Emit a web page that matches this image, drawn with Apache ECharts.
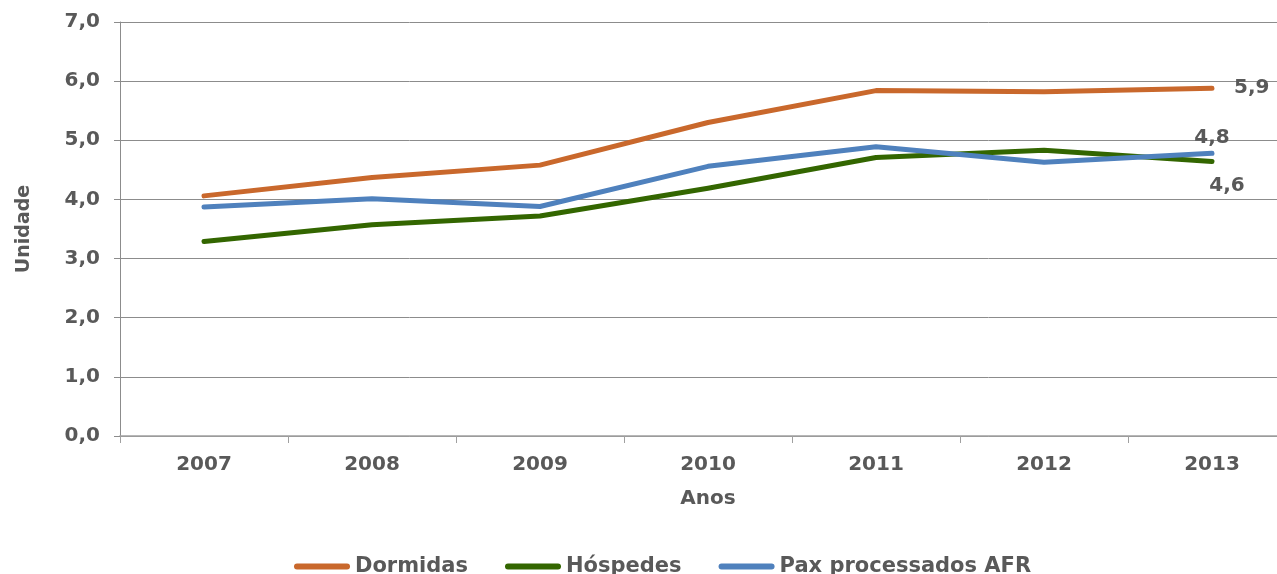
<!DOCTYPE html>
<html>
<head>
<meta charset="utf-8">
<script src="https://cdn.jsdelivr.net/npm/echarts@6/dist/echarts.min.js"></script>
<style>
html,body{margin:0;padding:0;background:#fff;}
#c{width:1277px;height:574px;}
</style>
</head>
<body>
<div id="c"></div>
<script>
const years = ['2007','2008','2009','2010','2011','2012','2013'];
const dormidas = [4.06, 4.37, 4.58, 5.30, 5.84, 5.82, 5.88];
const hospedes = [3.29, 3.57, 3.72, 4.19, 4.71, 4.83, 4.64];
const pax = [3.87, 4.01, 3.88, 4.56, 4.89, 4.63, 4.78];
const seriesNames = ['Dormidas', 'Hóspedes', 'Pax processados AFR'];

const txt = '#595959';
const font = 'DejaVu Sans';
const fmt = v => Number(v).toFixed(1).replace('.', ',');
const capsule = 'path://M3,0 L53,0 A3,3 0 0 1 53,6 L3,6 A3,3 0 0 1 3,0 Z';

function withLastLabel(arr, labelOpt) {
  return arr.map((v, i) => i === arr.length - 1
    ? { value: v, label: Object.assign({ show: true, formatter: p => fmt(p.value), color: txt, fontFamily: font, fontWeight: 'bold', fontSize: 20 }, labelOpt) }
    : v);
}

const chart = echarts.init(document.getElementById('c'), null, { renderer: 'canvas' });
chart.setOption({
  animation: false,
  backgroundColor: '#fff',
  grid: { left: 120, top: 22, width: 1176, bottom: 138, containLabel: false, outerBoundsMode: 'none' },
  legend: {
    top: 556,
    left: 294,
    padding: 0,
    itemGap: 37,
    itemWidth: 56,
    itemHeight: 6,
    icon: capsule,
    symbolKeepAspect: false,
    textStyle: { color: txt, fontFamily: font, fontWeight: 'bold', fontSize: 21 },
    data: seriesNames
  },
  xAxis: {
    type: 'category',
    data: years,
    boundaryGap: true,
    name: 'Anos',
    nameLocation: 'middle',
    nameGap: 53,
    nameTextStyle: { color: txt, fontFamily: font, fontWeight: 'bold', fontSize: 20 },
    axisLine: { show: true, lineStyle: { color: '#a0a0a0', width: 1.5 } },
    axisTick: { show: true, length: 7, inside: false, lineStyle: { color: '#a0a0a0' } },
    axisLabel: { color: txt, fontFamily: font, fontWeight: 'bold', fontSize: 20, margin: 19 },
    splitLine: { show: false }
  },
  yAxis: {
    type: 'value',
    min: 0, max: 7, interval: 1,
    name: 'Unidade',
    nameLocation: 'middle',
    nameGap: 86,
    nameRotate: 90,
    nameTextStyle: { color: txt, fontFamily: font, fontWeight: 'bold', fontSize: 19 },
    axisLine: { show: true, lineStyle: { color: '#8c8c8c', width: 1 } },
    axisTick: { show: true, length: 6, lineStyle: { color: '#8c8c8c' } },
    axisLabel: { color: txt, fontFamily: font, fontWeight: 'bold', fontSize: 20, margin: 20, formatter: fmt },
    splitLine: { show: true, lineStyle: { color: '#8c8c8c', width: 1 } }
  },
  series: [
    {
      name: seriesNames[0], type: 'line', data: withLastLabel(dormidas, { position: 'right', distance: 22 }),
      symbol: 'circle', symbolSize: 0, showSymbol: true, color: '#C9682C',
      lineStyle: { width: 5, color: '#C9682C', cap: 'round', join: 'round' }
    },
    {
      name: seriesNames[1], type: 'line', data: withLastLabel(hospedes, { position: 'bottom', distance: 14, offset: [15, 0] }),
      symbol: 'circle', symbolSize: 0, showSymbol: true, color: '#336600',
      lineStyle: { width: 5, color: '#336600', cap: 'round', join: 'round' }
    },
    {
      name: seriesNames[2], type: 'line', data: withLastLabel(pax, { position: 'top', distance: 6 }),
      symbol: 'circle', symbolSize: 0, showSymbol: true, color: '#4F81BD',
      lineStyle: { width: 5, color: '#4F81BD', cap: 'round', join: 'round' }
    }
  ]
});
</script>
</body>
</html>
